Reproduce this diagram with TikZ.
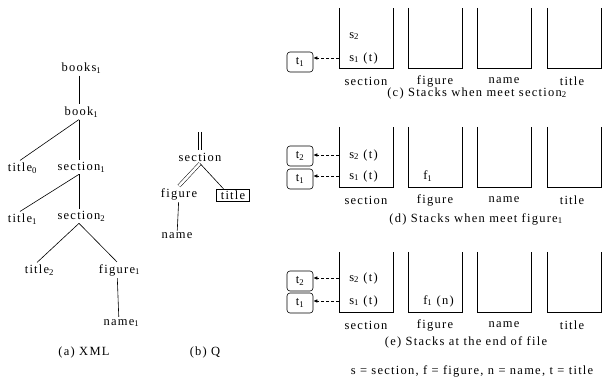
\documentclass[tikz,border=0pt]{standalone}
\usepackage{fontspec}
\setmainfont{Liberation Serif}[LetterSpace=10]
\usetikzlibrary{arrows.meta}
\newcommand\lowix[1]{\rlap{\textsubscript{#1}}}
\begin{document}
\begin{tikzpicture}[x=1pt,y=-1pt,line width=0.6pt,
        every node/.style={font=\fontsize{12.5}{14}\selectfont,inner sep=2pt},
        tbox/.style={draw,rounded corners=3pt,minimum width=26pt,minimum height=20pt,inner sep=0pt},
        qbox/.style={draw,inner xsep=4pt,inner ysep=1.5pt},
        ptr/.style={densely dashed,-{Latex[length=4pt,width=3.5pt]}},
        dbl/.style={double,double distance=2.6pt,line width=0.5pt}]
        \useasboundingbox (0,0) rectangle (602,387);

        % (a) XML
        \node (books1) at (79,68) {books\lowix{1}};
        \node (book1) at (79,112) {book\lowix{1}};
        \node (title0) at (20,168) {title\lowix{0}};
        \node (section1) at (79,167) {section\lowix{1}};
        \node (title1) at (20,219) {title\lowix{1}};
        \node (section2) at (79,216) {section\lowix{2}};
        \node (title2) at (37,270) {title\lowix{2}};
        \node (figure1) at (117,270) {figure\lowix{1}};
        \node (name1) at (119,323) {name\lowix{1}};
        \draw (books1) -- (book1);
        \draw (book1.south) -- (title0.north);
        \draw (book1) -- (section1);
        \draw (section1.south) -- (title1.north);
        \draw (section1) -- (section2);
        \draw (section2.south) -- (title2.north);
        \draw (section2.south) -- (figure1.north);
        \draw (figure1) -- (name1);
        \node (capa) at (84,352) {(a) XML};

        % (b) Q
        \coordinate (qtop) at (200,132);
        \node (qsection) at (200,157) {section};
        \node (qfigure) at (179,194) {figure};
        \node[qbox] (qtitle) at (233,195) {title};
        \node (qname) at (177,236) {name};
        \draw[dbl] (qtop) -- (qsection);
        \draw[dbl] (qsection.south) -- (qfigure.north);
        \draw (qsection.south) -- ([xshift=7pt]qtitle.north west);
        \draw (qfigure) -- (qname);
        \node (capb) at (205,352) {(b) Q};

        % stacks
        \foreach \yb in {68,187,312} {
            \foreach \xl in {339,408,477,547}
                \draw (\xl,\yb-60) -- (\xl,\yb) -- (\xl+54,\yb) -- (\xl+54,\yb-60);
            \foreach \lab/\xc in {section/366,figure/435,name/504,title/572}
                \node (\lab-\yb) at (\xc,\yb+13) {\lab};
        }

        % (c)
        \node[anchor=west] (s2c) at (347,36) {s\textsubscript{2}};
        \node[anchor=west] (s1c) at (347,58) {s\textsubscript{1} (t)};
        \node[tbox] (t1c) at (300,62) {t\textsubscript{1}};
        \draw[ptr] ([xshift=-8pt]s1c.west) -- (t1c.east |- s1c.west);
        \node (capc) at (477,93) {(c) Stacks when meet section\textsubscript{2}};

        % (d)
        \node[anchor=west] (s2d) at (347,155) {s\textsubscript{2} (t)};
        \node[anchor=west] (s1d) at (347,176) {s\textsubscript{1} (t)};
        \node[anchor=west] (f1d) at (421,176) {f\textsubscript{1}};
        \node[tbox] (t2d) at (300,156) {t\textsubscript{2}};
        \node[tbox] (t1d) at (300,179) {t\textsubscript{1}};
        \draw[ptr] ([xshift=-8pt]s2d.west) -- (t2d.east |- s2d.west);
        \draw[ptr] ([xshift=-8pt]s1d.west) -- (t1d.east |- s1d.west);
        \node (capd) at (476,219) {(d) Stacks when meet figure\textsubscript{1}};

        % (e)
        \node[anchor=west] (s2e) at (347,278) {s\textsubscript{2} (t)};
        \node[anchor=west] (s1e) at (347,301) {s\textsubscript{1} (t)};
        \node[anchor=west] (f1e) at (421,301) {f\textsubscript{1} (n)};
        \node[tbox] (t2e) at (300,281) {t\textsubscript{2}};
        \node[tbox] (t1e) at (300,303) {t\textsubscript{1}};
        \draw[ptr] ([xshift=-8pt]s2e.west) -- (t2e.east |- s2e.west);
        \draw[ptr] ([xshift=-8pt]s1e.west) -- (t1e.east |- s1e.west);
        \node (cape) at (466,342) {(e) Stacks at the end of file};

        \node (legend) at (472,371) {s = section, f = figure, n = name, t = title};
    \end{tikzpicture}
\end{document}
